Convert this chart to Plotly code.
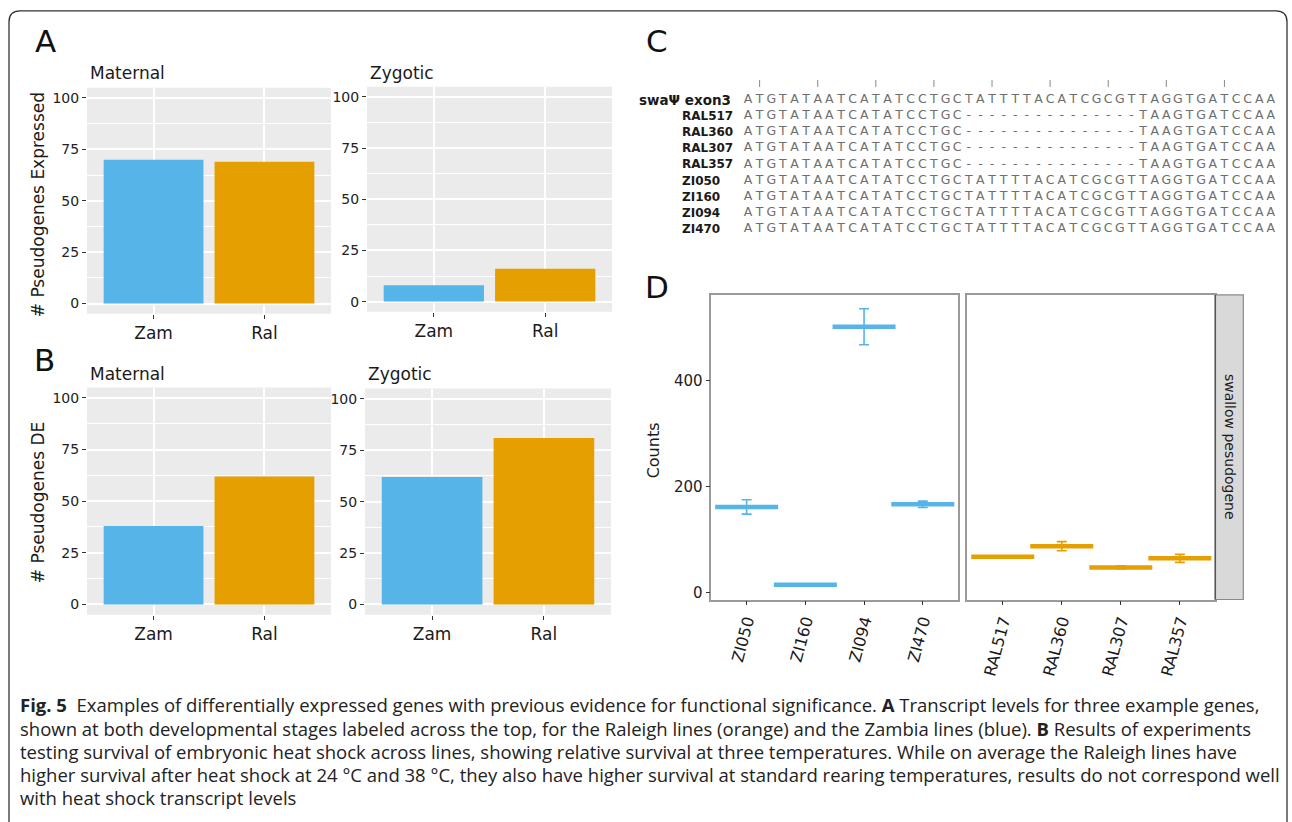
import plotly.graph_objects as go

W, H = 1292, 822
def fx(p): return p / W
def fy(p): return 1 - p / H

# ---------------- data ----------------
groups = ["Zam", "Ral"]
expr_maternal = [70, 69]
expr_zygotic = [8, 16]
de_maternal = [38, 62]
de_zygotic = [62, 81]
bar_colors = ["#56B4E9", "#E69F00"]

zi_lines = ["ZI050", "ZI160", "ZI094", "ZI470"]
zi_counts = [162, 15, 502, 167]
zi_err = [13.5, 2, 34, 6]
ral_lines = ["RAL517", "RAL360", "RAL307", "RAL357"]
ral_counts = [68, 88, 48, 65]
ral_err = [1, 8.5, 3, 7.5]
facet_label = "swallow pesudogene"

seq_labels = ["swaΨ exon3", "RAL517", "RAL360", "RAL307", "RAL357", "ZI050", "ZI160", "ZI094", "ZI470"]
ref_seq = "ATGTATAATCATATCCTGCTATTTTACATCGCGTTAGGTGATCCAA"
ral_seq = "ATGTATAATCATATCCTGC" + "-" * 15 + "TAAGTGATCCAA"
seqs = [ref_seq, ral_seq, ral_seq, ral_seq, ral_seq, ref_seq, ref_seq, ref_seq, ref_seq]
ruler_ticks = list(range(1, 46, 5))

caption_lines = [
    "<b>Fig. 5</b>  Examples of differentially expressed genes with previous evidence for functional significance. <b>A</b> Transcript levels for three example genes,",
    "shown at both developmental stages labeled across the top, for the Raleigh lines (orange) and the Zambia lines (blue). <b>B</b> Results of experiments",
    "testing survival of embryonic heat shock across lines, showing relative survival at three temperatures. While on average the Raleigh lines have",
    "higher survival after heat shock at 24 °C and 38 °C, they also have higher survival at standard rearing temperatures, results do not correspond well",
    "with heat shock transcript levels",
]

# ---------------- figure ----------------
fig = go.Figure()
GG = "DejaVu Sans"
annotations = []
shapes = []

def ann(text, px, py, size, color="#1a1a1a", family=GG, angle=0, xanchor="center", yanchor="middle", yref="paper"):
    annotations.append(dict(text=text, x=fx(px), y=(fy(py) if yref == "paper" else py), xref="paper", yref=yref,
                            xanchor=xanchor, yanchor=yanchor, textangle=angle, showarrow=False,
                            font=dict(family=family, size=size, color=color)))

bar_panels = [
    (expr_maternal, "", (87, 331), (88, 315), "Maternal", 73),
    (expr_zygotic, "2", (367, 612), (87, 313), "Zygotic", 73),
    (de_maternal, "3", (87, 331), (389, 617), "Maternal", 375),
    (de_zygotic, "4", (365, 611), (390, 617), "Zygotic", 375),
]
layout_axes = {}
for vals, s, (x0, x1), (y0, y1), title, ty in bar_panels:
    fig.add_trace(go.Bar(x=groups, y=vals, marker=dict(color=bar_colors, line=dict(width=0)),
                         width=0.9, xaxis="x" + s, yaxis="y" + s, showlegend=False))
    layout_axes["xaxis" + s] = dict(domain=[fx(x0), fx(x1)], anchor="y" + s, type="category",
                                    range=[-0.6, 1.6], showgrid=True, gridcolor="white", gridwidth=2,
                                    ticks="outside", ticklen=4, tickcolor="#333333", showline=False,
                                    tickfont=dict(family=GG, size=17, color="#1a1a1a"), zeroline=False)
    layout_axes["yaxis" + s] = dict(domain=[fy(y1), fy(y0)], anchor="x" + s, range=[-5, 105],
                                    tickvals=[0, 25, 50, 75, 100], showgrid=True, gridcolor="white", gridwidth=2,
                                    minor=dict(tickvals=[12.5, 37.5, 62.5, 87.5], showgrid=True, gridcolor="white", gridwidth=1, ticks=""),
                                    ticks="outside", ticklen=4, tickcolor="#333333", zeroline=False, showline=False,
                                    tickfont=dict(family=GG, size=14, color="#222222"))
    shapes.append(dict(type="rect", xref=("x" + s) + " domain", yref=("y" + s) + " domain",
                       x0=0, x1=1, y0=0, y1=1, fillcolor="#EBEBEB", line=dict(width=0), layer="below"))
    ann(title, x0 + 1, ty, 17, xanchor="left")

# y titles for A / B
ann("# Pseudogenes Expressed", 38, 206, 17, angle=-90)
ann("# Pseudogenes DE", 38, 505, 17, angle=-90)

# panel letters
for letter, px, py in [("A", 45, 41), ("B", 44, 361), ("C", 657, 41), ("D", 657, 288)]:
    ann(letter, px, py, 31, color="#111111")

# ---------------- panel C: alignment ----------------
cx, cy, ct = [], [], []
for r, sq in enumerate(seqs):
    for c, ch in enumerate(sq):
        cx.append(c); cy.append(r); ct.append(ch)
fig.add_trace(go.Scatter(x=cx, y=cy, text=ct, mode="text", xaxis="x5", yaxis="y5", showlegend=False,
                         textfont=dict(family=GG, size=12.5, color="#6e6e6e"), hoverinfo="skip"))
fig.add_trace(go.Scatter(x=ruler_ticks, y=[-1.0] * len(ruler_ticks), mode="markers", xaxis="x5", yaxis="y5",
                         showlegend=False, marker=dict(symbol="line-ns", size=5, line=dict(width=1, color="#888888")),
                         hoverinfo="skip"))
char_w = 11.62
row_h = 16.25
c0 = 748
r0 = 100
layout_axes["xaxis5"] = dict(domain=[fx(c0 - 0.5 * char_w), fx(c0 + 45.5 * char_w)], anchor="y5",
                             range=[-0.5, 45.5], visible=False)
layout_axes["yaxis5"] = dict(domain=[fy(r0 + 8.5 * row_h), fy(r0 - 1.5 * row_h)], anchor="x5",
                             range=[8.5, -1.5], visible=False)
for i, lab in enumerate(seq_labels):
    if i == 0:
        ann("<b>" + lab + "</b>", 733, i, 13.5, xanchor="right", yref="y5")
    else:
        ann("<b>" + lab + "</b>", 680, i, 12, xanchor="left", yref="y5")

# ---------------- panel D ----------------
BLUE, ORANGE = "#56B4E9", "#E69F00"
dy0, dy1 = 296, 601.7
for names, vals, errs, col, s, (x0, x1) in [
    (zi_lines, zi_counts, zi_err, BLUE, "6", (711.4, 958)),
    (ral_lines, ral_counts, ral_err, ORANGE, "7", (967.3, 1215.3)),
]:
    fig.add_trace(go.Scatter(x=names, y=vals, mode="markers", xaxis="x" + s, yaxis="y" + s, showlegend=False,
                             error_y=dict(type="data", array=errs, width=5, thickness=1.6, color=col),
                             marker=dict(symbol="line-ew", size=45, color=col, line=dict(width=4.5, color=col))))
    layout_axes["xaxis" + s] = dict(domain=[fx(x0), fx(x1)], anchor="y" + s, type="category", range=[-0.6, 3.6],
                                    showgrid=False, zeroline=False, showline=True, mirror=True, linecolor="#9a9a9a",
                                    linewidth=1.5, ticks="outside", ticklen=4, tickcolor="#333333", tickangle=-75,
                                    tickfont=dict(family=GG, size=16, color="#1a1a1a"))
    ya = dict(domain=[fy(dy1), fy(dy0)], anchor="x" + s, range=[-12.6, 562], showgrid=False, zeroline=False,
              showline=True, mirror=True, linecolor="#9a9a9a", linewidth=1.5)
    if s == "6":
        ya.update(tickvals=[0, 200, 400], ticks="outside", ticklen=4, tickcolor="#333333",
                  tickfont=dict(family=GG, size=15, color="#222222"))
    else:
        ya.update(showticklabels=False, ticks="", matches="y6")
    layout_axes["yaxis" + s] = ya

ann("Counts", 653, 452, 16, angle=-90)
shapes.append(dict(type="rect", xref="paper", yref="paper", x0=fx(1215.3), x1=fx(1243.3), y0=fy(dy1), y1=fy(dy0),
                   fillcolor="#D9D9D9", line=dict(color="#8a8a8a", width=1.2)))
shapes.append(dict(type="line", xref="paper", yref="paper", x0=fx(1215.3), x1=fx(1215.3), y0=fy(dy1), y1=fy(dy0),
                   line=dict(color="#555555", width=1.5)))
ann(facet_label, 1229.3, (dy0 + dy1) / 2, 14, angle=90)

# ---------------- caption ----------------
cap_y = [707, 731, 754, 777, 800]
for line, yy in zip(caption_lines, cap_y):
    ann(line, 18, yy, 18.5, color="#222222", family="Open Sans", xanchor="left")

# ---------------- outer rounded border ----------------
bx0, bx1, by0, by1, rr = 9, 1287, 11, 860, 11
path = (f"M {fx(bx0)},{fy(by1)} L {fx(bx0)},{fy(by0 + rr)} Q {fx(bx0)},{fy(by0)} {fx(bx0 + rr)},{fy(by0)} "
        f"L {fx(bx1 - rr)},{fy(by0)} Q {fx(bx1)},{fy(by0)} {fx(bx1)},{fy(by0 + rr)} L {fx(bx1)},{fy(by1)}")
shapes.append(dict(type="path", path=path, xref="paper", yref="paper", line=dict(color="#333333", width=1.3)))

fig.update_layout(width=W, height=H, margin=dict(l=0, r=0, t=0, b=0), autosize=False,
                  plot_bgcolor="white", paper_bgcolor="white", showlegend=False,
                  annotations=annotations, shapes=shapes, **layout_axes)

fig.write_html("out.html", config={"displayModeBar": False},
               post_script="document.body.style.margin='0';document.body.style.overflow='hidden';")
